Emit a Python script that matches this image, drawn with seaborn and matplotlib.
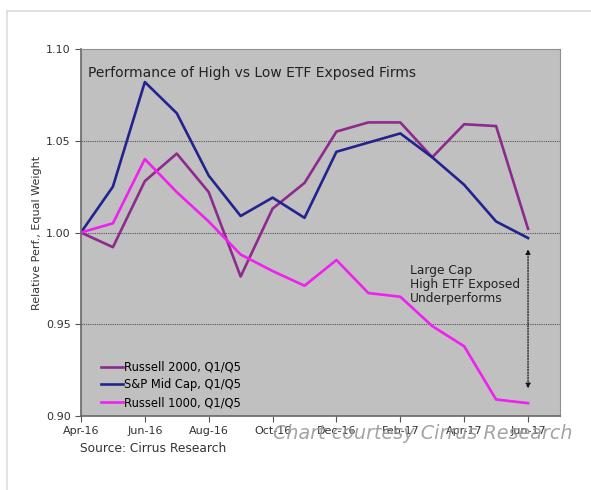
import pandas as pd
import matplotlib
matplotlib.use("Agg")
import matplotlib.pyplot as plt
from matplotlib.lines import Line2D
import seaborn as sns

months = ["Apr-16", "May-16", "Jun-16", "Jul-16", "Aug-16", "Sep-16", "Oct-16", "Nov-16",
          "Dec-16", "Jan-17", "Feb-17", "Mar-17", "Apr-17", "May-17", "Jun-17"]
russell2000 = [1.000, 0.992, 1.028, 1.043, 1.022, 0.976, 1.013, 1.027,
               1.055, 1.060, 1.060, 1.041, 1.059, 1.058, 1.002]
sp_midcap = [1.000, 1.025, 1.082, 1.065, 1.031, 1.009, 1.019, 1.008,
             1.044, 1.049, 1.054, 1.041, 1.026, 1.006, 0.997]
russell1000 = [1.000, 1.005, 1.040, 1.022, 1.006, 0.988, 0.979, 0.971,
               0.985, 0.967, 0.965, 0.949, 0.938, 0.909, 0.907]
series_names = ["Russell 2000, Q1/Q5", "S&P Mid Cap, Q1/Q5", "Russell 1000, Q1/Q5"]
tick_labels = months[::2]

#%%
df = pd.DataFrame({"month": months, series_names[0]: russell2000,
                   series_names[1]: sp_midcap, series_names[2]: russell1000})
df["idx"] = range(len(months))
long = df.melt(id_vars=["month", "idx"], var_name="series", value_name="perf")

colors = {series_names[0]: "#8E2A8E", series_names[1]: "#232390", series_names[2]: "#F020F0"}

fig = plt.figure(figsize=(5.91, 4.90), dpi=100)
ax = fig.add_axes([0.137, 0.151, 0.8105, 0.749])
ax.set_facecolor("#C0C0C0")

sns.lineplot(data=long, x="idx", y="perf", hue="series", palette=colors,
             linewidth=1.9, ax=ax)

ax.set_xlim(0, 15)
ax.set_ylim(0.90, 1.10)
ax.set_yticks([0.90, 0.95, 1.00, 1.05, 1.10])
ax.set_yticklabels(["0.90", "0.95", "1.00", "1.05", "1.10"], fontsize=8, color="#333333")
ax.set_xticks(range(0, 15, 2))
ax.set_xticklabels(tick_labels, fontsize=8, color="#333333")
ax.tick_params(axis="both", length=4, color="#555555", direction="out")
for y in [0.95, 1.00, 1.05]:
    ax.axhline(y, color="#555555", linestyle=(0, (1, 1)), linewidth=0.8, zorder=0.5)
for s in ["top", "right"]:
    ax.spines[s].set_color("#909090")
for s in ["left", "bottom"]:
    ax.spines[s].set_color("#666666")
    ax.spines[s].set_linewidth(1.2)
ax.set_xlabel("")
ax.set_ylabel("Relative Perf., Equal Weight", fontsize=8, color="#333333", labelpad=3)

ax.text(0.015, 0.955, "Performance of High vs Low ETF Exposed Firms", transform=ax.transAxes,
        fontsize=10, color="#222222", va="top")

ax.legend(loc="lower left", bbox_to_anchor=(0.02, -0.01), frameon=False, fontsize=8.3,
          handlelength=1.9, handletextpad=0.1, labelspacing=0.42)

# annotation with dotted double arrow
ax.annotate("", xy=(14, 0.9925), xytext=(14, 0.9135),
            arrowprops=dict(arrowstyle="<|-|>", linestyle=(0, (1, 1.2)), color="#111111",
                            linewidth=0.9, mutation_scale=7))
ax.text(10.3, 0.983, "Large Cap\nHigh ETF Exposed\nUnderperforms", fontsize=8.8,
        color="#222222", va="top", linespacing=1.1)

fig.text(0.135, 0.077, "Source: Cirrus Research", fontsize=8.8, color="#333333")
fig.text(0.462, 0.105, "Chart courtesy Cirrus Research", fontsize=13.8, color="#9A9A9A",
         style="italic", alpha=0.9)

# light page frame
fig.add_artist(Line2D([0.012, 1.0], [0.977, 0.977], color="#DDDDDD", linewidth=1.2))
fig.add_artist(Line2D([0.012, 0.012], [0.977, 0.0], color="#DDDDDD", linewidth=1.2))

fig.savefig("out.png", dpi=100)
